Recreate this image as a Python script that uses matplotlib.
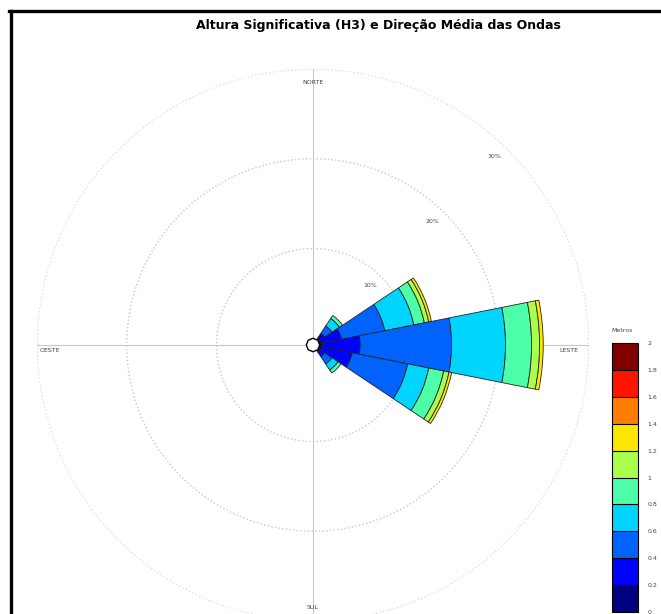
import numpy as np
import matplotlib
matplotlib.use("Agg")
import matplotlib.pyplot as plt
from matplotlib.colors import BoundaryNorm
from matplotlib.colorbar import ColorbarBase
from matplotlib.lines import Line2D

plt.rcParams['font.family'] = ['DejaVu Sans']

# Direções (graus, convenção náutica) e frequência (%) por classe de altura
direcoes = [45.0, 67.5, 90.0, 112.5, 135.0]
classes_hs = [0, 0.2, 0.4, 0.6, 0.8, 1.0, 1.2, 1.4, 1.6, 1.8, 2.0]
freq_ne = [0.2, 0.6, 1.0, 1.0, 0.4, 0.0, 0.0, 0.0, 0.0, 0.0]
freq_ene = [0.3, 2.2, 4.9, 3.3, 1.2, 0.5, 0.3, 0.0, 0.0, 0.0]
freq_e = [0.3, 4.2, 10.2, 6.0, 2.9, 0.9, 0.4, 0.0, 0.0, 0.0]
freq_ese = [0.3, 3.4, 6.3, 2.4, 1.7, 0.6, 0.3, 0.0, 0.0, 0.0]
freq_se = [0.2, 0.6, 1.0, 0.8, 0.4, 0.0, 0.0, 0.0, 0.0, 0.0]
freqs = [freq_ne, freq_ene, freq_e, freq_ese, freq_se]

aneis = [10, 20, 30]
rotulos_aneis = ["10%", "20%", "30%"]
pontos_cardeais = ["NORTE", "LESTE", "SUL", "OESTE"]
titulo = "Altura Significativa (H3) e Direção Média das Ondas"

W, H = 661, 614
fig = plt.figure(figsize=(W / 100, H / 100), dpi=100)

r0 = 0.75  # raio do furo central
rmax = aneis[-1] + r0
cx, cy, rpx = 313, 345, 276
ax = fig.add_axes([(cx - rpx) / W, (H - cy - rpx) / H, 2 * rpx / W, 2 * rpx / H],
                  projection='polar')
ax.set_theta_zero_location('N')
ax.set_theta_direction(-1)
ax.set_ylim(0, rmax)
ax.grid(False)
ax.set_xticks([])
ax.set_yticks([])
ax.spines['polar'].set_visible(False)
ax.patch.set_alpha(0)

cmap = plt.get_cmap('jet', len(classes_hs) - 1)
norm = BoundaryNorm(classes_hs, cmap.N)

# anéis e eixos de referência
cinza = '#c8c8c8'
t = np.linspace(0, 2 * np.pi, 400)
for a in aneis:
    ax.plot(t, np.full_like(t, a + r0), color=cinza, lw=1.0, ls=':', zorder=1)
for ang in [0, 90, 180, 270]:
    th = np.radians(ang)
    ax.plot([th, th], [0, rmax], color=cinza, lw=0.8, zorder=1)

# setores empilhados
largura = np.radians(22.5)
for d, f in zip(direcoes, freqs):
    base = r0
    for k, v in enumerate(f):
        if v <= 0:
            continue
        ax.bar(np.radians(d), v, width=largura, bottom=base,
               color=cmap(k), edgecolor='#222222', linewidth=0.6, zorder=3)
        base += v

# furo central
tc = np.linspace(0, 2 * np.pi, 9)
ax.fill(tc, np.full_like(tc, r0), facecolor='white', edgecolor='k', lw=1.0, zorder=6)

for a, lab in zip(aneis, rotulos_aneis):
    ax.text(np.radians(44), a + r0 - 1.6, lab, fontsize=4.5, color='#444444',
            ha='center', va='center', zorder=4)

pos_cardeais = [(0, rmax - 1.5), (90, rmax - 2.2), (180, rmax - 1.5), (270, rmax - 1.4)]
for (ang, rr), lab in zip(pos_cardeais, pontos_cardeais):
    dy = 0 if ang in (0, 180) else -4
    ax.annotate(lab, (np.radians(ang), rr), xytext=(0, dy), textcoords='offset points',
                fontsize=4.5, color='#444444', ha='center', va='center', zorder=4)

# barra de cores
cax = fig.add_axes([612 / W, 2 / H, 26 / W, (612 - 343) / H])
cb = ColorbarBase(cax, cmap=cmap, norm=norm, boundaries=classes_hs,
                  ticks=classes_hs, drawedges=True)
cb.outline.set_linewidth(0.8)
cb.dividers.set_linewidth(0.8)
cb.ax.set_yticklabels(["0", "0.2", "0.4", "0.6", "0.8", "1", "1.2", "1.4", "1.6", "1.8", "2"])
cb.ax.tick_params(labelsize=4.5, length=0, pad=7, labelcolor='#444444')
fig.text(611 / W, 1 - 330 / H, "Metros", fontsize=4.5, color='#444444', ha='left', va='center')

fig.text(378 / W, 1 - 26 / H, titulo, fontsize=9, fontweight='bold',
         ha='center', va='center')

# moldura
fig.add_artist(Line2D([10.5 / W, 10.5 / W], [0, 1 - 10.5 / H], color='k', lw=2.4,
                      transform=fig.transFigure))
fig.add_artist(Line2D([9.3 / W, 1], [1 - 10.5 / H, 1 - 10.5 / H], color='k', lw=2.4,
                      transform=fig.transFigure))

fig.savefig("out.png", dpi=100)
